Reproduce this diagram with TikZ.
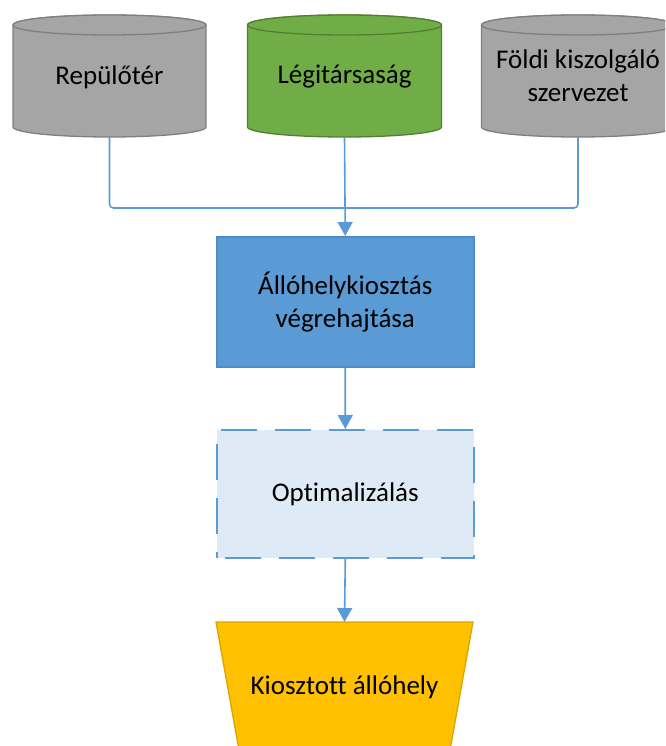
\documentclass[tikz,border=0pt]{standalone}
\usepackage{fontspec}
\setmainfont{Carlito}[Ligatures=CommonOff]
\usetikzlibrary{arrows.meta}

\definecolor{flowblue}{HTML}{5B9BD5}
\definecolor{flowblueline}{HTML}{4D8CCB}
\definecolor{paleblue}{HTML}{DEEBF7}
\definecolor{cylgray}{HTML}{A5A5A5}
\definecolor{cylgrayline}{HTML}{7F7F7F}
\definecolor{cylgreen}{HTML}{70AD47}
\definecolor{cylgreenline}{HTML}{537F35}
\definecolor{gold}{HTML}{FFC000}
\definecolor{goldline}{HTML}{D9A600}

\tikzset{
  label text/.style={font=\fontsize{27}{33}\selectfont, text=black, align=center, inner sep=0pt},
  link/.style={draw=flowblue, line width=1.6pt, rounded corners=4pt},
  linkarrow/.style={link, -{Triangle[width=15pt,length=14pt]}},
  grayshape/.style={fill=cylgray, draw=cylgrayline, line width=1.3pt},
  greenshape/.style={fill=cylgreen, draw=cylgreenline, line width=1.3pt},
}

% database cylinder: centre x, horizontal radius, top y, bottom y (all y measured downwards)
\newcommand{\dbcyl}[5]{%
  \path[#5] (#1-#2,-#3) -- (#1-#2,-#4)
    arc[start angle=180, end angle=360, x radius=#2, y radius=10]
    -- (#1+#2,-#3)
    arc[start angle=0, end angle=180, x radius=#2, y radius=10] -- cycle;
  \path[#5] (#1,-#3) ellipse[x radius=#2, y radius=10];
}

\begin{document}
\begin{tikzpicture}[x=1pt,y=1pt]
\useasboundingbox (0,0) rectangle (665,-746);
\clip (0,0) rectangle (665,-746);

% data sources
\dbcyl{109.5}{96.5}{25}{127}{grayshape}
\dbcyl{344.5}{97}{25}{127}{greenshape}
\dbcyl{578}{96.5}{25}{127}{grayshape}

\node[label text] (airport) at (109.5,-77) {Repülőtér};
\node[label text] (airline) at (344.5,-77) {Légitársaság};
\node[label text] (ground) at (578,-76) {Földi kiszolgáló\\szervezet};

\coordinate (airportbot) at (109.5,-137);
\coordinate (airlinebot) at (344.5,-137);
\coordinate (groundbot) at (578,-137);

% process steps
\node[fill=flowblue, draw=flowblueline, line width=1.5pt, minimum width=257pt, minimum height=130pt,
      label text, anchor=north west] (assign) at (216,-236)
      {Állóhelykiosztás\\végrehajtása};

\node[fill=paleblue, draw=flowblue, line width=1.6pt, dash pattern=on 36pt off 18pt, dash phase=46pt,
      minimum width=257pt, minimum height=128pt, label text, anchor=north west] (optim) at (216,-429)
      {Optimalizálás};

% result (manual operation trapezoid, running off the lower edge)
\coordinate (resTL) at (216,-622);
\coordinate (resTR) at (473,-622);
\path[fill=gold, draw=goldline, line width=1.3pt]
  (resTL) -- (resTR) -- (449.3,-754) -- (239.7,-754) -- cycle;
\node[label text] (result) at (344.5,-687) {Kiosztott állóhely};
\coordinate (resulttop) at (344.5,-622);

% connectors
\coordinate (join) at (344.5,-208);
\draw[link] (airportbot) |- (join);
\draw[link] (groundbot) |- (join);
\draw[linkarrow] (airlinebot) -- (assign.north);
\draw[linkarrow] (assign.south) -- (optim.north);
\draw[linkarrow] (optim.south) -- (resulttop);
\end{tikzpicture}
\end{document}
